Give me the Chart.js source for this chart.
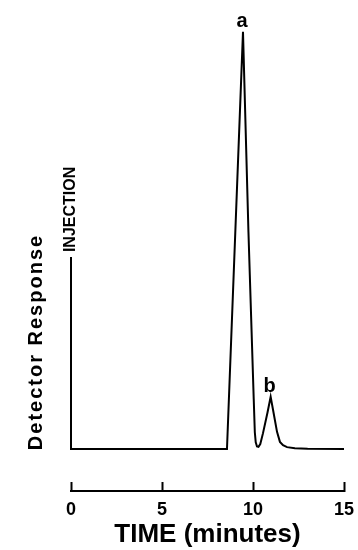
<!DOCTYPE html>
<html>
<head>
<meta charset="utf-8">
<script src="https://cdn.jsdelivr.net/npm/chart.js@4.4.1/dist/chart.umd.min.js"></script>
<style>
  html, body { margin: 0; padding: 0; background: #fff; }
  #wrap { width: 358px; height: 550px; }
</style>
</head>
<body>
<div id="wrap"><canvas id="chart" width="358" height="550"></canvas></div>
<script>
// chromatogram trace, time in minutes, response in arbitrary units
const time = [0, 0, 8.57, 9.45, 9.75, 10.04, 10.1, 10.15, 10.22, 10.3, 10.4, 10.55, 10.8, 10.97, 11.1, 11.32, 11.48, 11.65, 11.87, 12.3, 13, 15];
const response = [46, 0, 0, 100, 52, 12, 4, 1.6, 0.6, 0.5, 1.2, 3.8, 8.8, 12.5, 9.4, 4.1, 1.7, 0.9, 0.45, 0.2, 0.05, 0];

const xTicks = [0, 5, 10, 15];
const peakLabels = ['a', 'b'];
const peakTimes = [9.45, 10.97];
const peakValues = [100, 12.5];
const injectionLabel = 'INJECTION';
const injectionValue = 46;

const FONT = "'Liberation Sans', Arial, Helvetica, sans-serif";

let points = [];
for (let i = 0; i < time.length; i++) {
  points.push({ x: time[i], y: response[i] });
}

// extra texts: y title, injection marker, peak letters
const annotate = {
  id: 'annotate',
  afterDatasetsDraw(chart) {
    const ctx = chart.ctx;
    const xs = chart.scales.x;
    const ys = chart.scales.y;
    ctx.save();
    ctx.fillStyle = '#000';

    // Detector Response
    ctx.save();
    ctx.translate(36, 342);
    ctx.rotate(-Math.PI / 2);
    ctx.font = 'bold 20px ' + FONT;
    if ('letterSpacing' in ctx) ctx.letterSpacing = '2px';
    ctx.textAlign = 'center';
    ctx.textBaseline = 'middle';
    ctx.fillText('Detector Response', 0, 0);
    ctx.restore();

    // INJECTION
    ctx.save();
    ctx.translate(xs.getPixelForValue(0), ys.getPixelForValue(injectionValue) - 5);
    ctx.rotate(-Math.PI / 2);
    ctx.font = 'bold 16px ' + FONT;
    ctx.textAlign = 'left';
    ctx.textBaseline = 'middle';
    ctx.fillText(injectionLabel, 0, 0);
    ctx.restore();

    // peak letters
    ctx.font = 'bold 20px ' + FONT;
    ctx.textAlign = 'center';
    ctx.textBaseline = 'alphabetic';
    for (let i = 0; i < peakLabels.length; i++) {
      ctx.fillText(peakLabels[i], xs.getPixelForValue(peakTimes[i]) - 1, ys.getPixelForValue(peakValues[i]) - 5);
    }
    ctx.restore();
  }
};

new Chart(document.getElementById('chart'), {
  type: 'line',
  data: {
    datasets: [{
      data: points,
      borderColor: '#000',
      borderWidth: 2,
      pointRadius: 0,
      tension: 0,
      fill: false,
      clip: false
    }]
  },
  options: {
    responsive: false,
    animation: false,
    events: [],
    layout: { padding: { left: 71, right: 14, top: 11, bottom: 0 } },
    plugins: { legend: { display: false }, tooltip: { enabled: false } },
    scales: {
      x: {
        type: 'linear',
        min: 0,
        max: 15,
        afterBuildTicks: (scale) => { scale.ticks = xTicks.map(v => ({ value: v })); },
        afterFit: (scale) => {
          scale.height = 59;
          scale.paddingLeft = 0;
          scale.paddingRight = 0;
        },
        border: { display: true, color: '#000', width: 2 },
        grid: { drawOnChartArea: false, drawTicks: true, tickLength: -9, tickWidth: 2, tickColor: '#000' },
        ticks: {
          padding: 17,
          maxRotation: 0,
          color: '#000',
          font: { family: FONT, size: 18, weight: 'bold' }
        },
        title: {
          display: true,
          text: 'TIME (minutes)',
          color: '#000',
          font: { family: FONT, size: 26, weight: 'bold' },
          padding: { top: 0, bottom: 0 }
        }
      },
      y: {
        display: false,
        min: -10.07,
        max: 105
      }
    }
  },
  plugins: [annotate]
});
</script>
</body>
</html>
